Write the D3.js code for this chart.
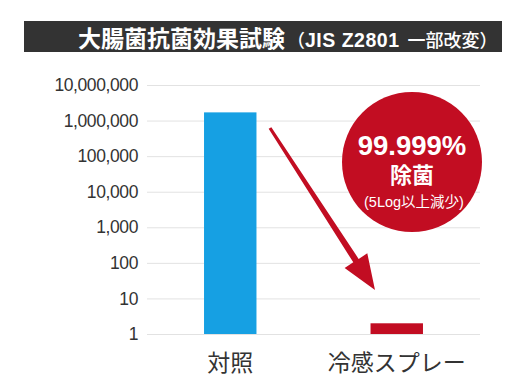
<!DOCTYPE html>
<html>
<head>
<meta charset="utf-8">
<script src="https://cdn.jsdelivr.net/npm/d3@7"></script>
<style>
html,body{margin:0;padding:0;background:#fff;}
svg{display:block;}
</style>
</head>
<body>
<svg id="chart" width="529" height="392"></svg>
<script>
const categories = ["対照", "冷感スプレー"];
const values = [1700000, 2];
const barColors = ["#16a0e3", "#c20d22"];
const tickValues = [1, 10, 100, 1000, 10000, 100000, 1000000, 10000000];
const titleMain = "大腸菌抗菌効果試験";
const titleSubParts = ["（", "JIS Z2801 ", "一部改変）"];
const badgeLines = ["99.999%", "除菌", "(5Log以上減少)"];

const svg = d3.select("#chart");
const cjk = "'Noto Sans CJK JP', 'Noto Sans', sans-serif";
const latin = "'Liberation Sans', Arial, 'Noto Sans CJK JP', sans-serif";

// Title bar
svg.append("rect").attr("x", 24).attr("y", 21).attr("width", 478).attr("height", 31).attr("fill", "#333333");
const title = svg.append("text").attr("x", 78).attr("y", 47)
  .attr("fill", "#fff").attr("font-weight", 700);
title.append("tspan").attr("font-family", cjk).attr("font-size", 23).text(titleMain);
title.append("tspan").attr("font-family", cjk).attr("font-size", 18).attr("font-weight", 500).attr("dx", 2).text(titleSubParts[0]);
title.append("tspan").attr("font-family", latin).attr("font-size", 19.5).attr("letter-spacing", "0.5px").text(titleSubParts[1]);
title.append("tspan").attr("font-family", cjk).attr("font-size", 18).attr("font-weight", 500).attr("dx", 2).text(titleSubParts[2]);

const y = d3.scaleLog().domain([1, 1e7]).range([334, 85]);
const x = d3.scaleBand().domain(categories).range([147, 480]).paddingInner(0.685).paddingOuter(0.3425);

// Y axis with gridlines
const yAxis = svg.append("g").attr("transform", "translate(147,0)")
  .call(d3.axisLeft(y).tickValues(tickValues).tickFormat(d3.format(",")).tickSize(-(480 - 147)).tickPadding(9));
yAxis.select(".domain").remove();
yAxis.selectAll(".tick line").attr("stroke", "#e2e2e2").attr("stroke-width", 1);
yAxis.selectAll(".tick text").attr("fill", "#333").attr("font-family", latin).attr("font-size", 17.5)
  .attr("letter-spacing", "-0.4px");

// Bars
svg.append("g").selectAll("rect").data(values).join("rect")
  .attr("x", (d, i) => x(categories[i]))
  .attr("width", x.bandwidth())
  .attr("y", d => y(d))
  .attr("height", d => y(1) - y(d))
  .attr("fill", (d, i) => barColors[i]);

// X axis labels
const xAxis = svg.append("g").attr("transform", "translate(0,334)")
  .call(d3.axisBottom(x).tickSize(0).tickPadding(21));
xAxis.select(".domain").remove();
xAxis.selectAll(".tick text").attr("fill", "#333").attr("font-family", cjk).attr("font-size", 23);

// Arrow from control bar to spray bar
const x0 = 270, y0 = 128, x1 = 375, y1 = 290;
const dx = x1 - x0, dy = y1 - y0, L = Math.hypot(dx, dy);
const ux = dx / L, uy = dy / L, nx = -uy, ny = ux;
const headLen = 35, headHalf = 13.5;
const bx = x1 - ux * headLen, by = y1 - uy * headLen;
const w0 = 1.6, w1 = 3.2;
const pts = [
  [x0 + nx * w0, y0 + ny * w0],
  [bx + nx * w1, by + ny * w1],
  [bx + nx * headHalf, by + ny * headHalf],
  [x1, y1],
  [bx - nx * headHalf, by - ny * headHalf],
  [bx - nx * w1, by - ny * w1],
  [x0 - nx * w0, y0 - ny * w0]
];
svg.append("path").attr("d", d3.line()(pts) + "Z").attr("fill", "#c20d22");

// Badge
const cx = 412, cy = 162;
svg.append("circle").attr("cx", cx).attr("cy", cy).attr("r", 70).attr("fill", "#c20d22");
svg.append("text").attr("x", cx).attr("y", 154.5).attr("text-anchor", "middle").attr("fill", "#fff")
  .attr("font-family", latin).attr("font-weight", 700).attr("font-size", 27.5).text(badgeLines[0]);
svg.append("text").attr("x", cx).attr("y", 182.5).attr("text-anchor", "middle").attr("fill", "#fff")
  .attr("font-family", latin).attr("font-weight", 700).attr("font-size", 22).text(badgeLines[1]);
svg.append("text").attr("x", cx + 2).attr("y", 207).attr("text-anchor", "middle").attr("fill", "#fff")
  .attr("font-family", latin).attr("font-size", 14.5).text(badgeLines[2]);
</script>
</body>
</html>
